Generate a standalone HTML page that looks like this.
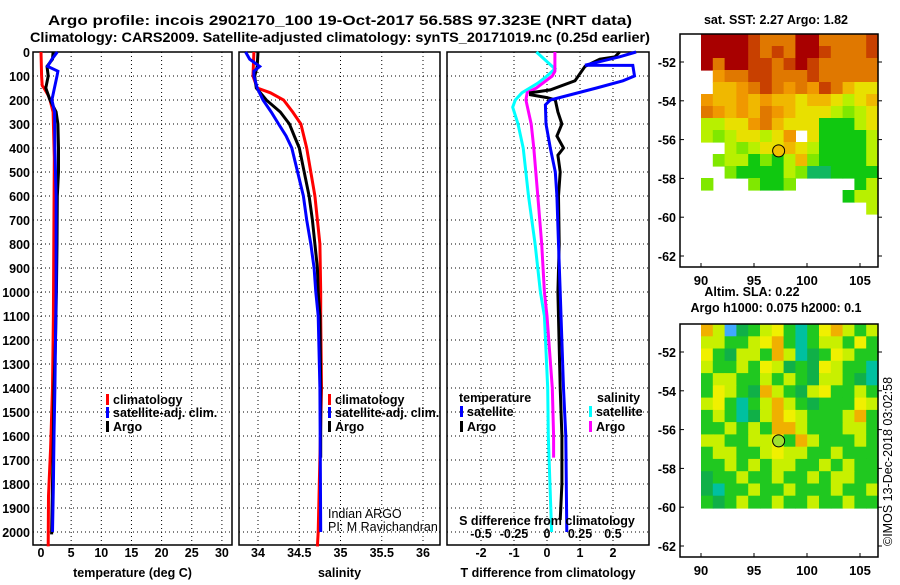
<!DOCTYPE html>
<html><head><meta charset="utf-8"><style>
html,body{margin:0;padding:0;background:#fff}
svg text{font-family:"Liberation Sans",sans-serif;font-weight:bold;font-size:12.5px;fill:#000}
svg text.nb{font-weight:normal}
</style></head><body>
<svg id="c" width="900" height="580" viewBox="0 0 900 580" xmlns="http://www.w3.org/2000/svg">
<text x="48" y="25" textLength="584" lengthAdjust="spacingAndGlyphs" style="font-size:14px">Argo profile: incois 2902170_100 19-Oct-2017 56.58S 97.323E (NRT data)</text>
<text x="30" y="42" textLength="620" lengthAdjust="spacingAndGlyphs" style="font-size:14px">Climatology: CARS2009. Satellite-adjusted climatology: synTS_20171019.nc (0.25d earlier)</text>
</svg>
<script>
// ---- depth axis ----
const depthTicks=[0,100,200,300,400,500,600,700,800,900,1000,1100,1200,1300,1400,1500,1600,1700,1800,1900,2000];
// ---- temperature panel ----
const tempTicks=[0,5,10,15,20,25,30];
const tClimD=[0,100,140,150,180,200,250,440,870,1100,1400,1650,1850,2060];
const tClimV=[0,0.1,0.2,0.5,1.2,1.5,2.0,2.2,2.1,2.05,1.9,1.6,1.25,1.2];
const tArgoD=[0,30,60,100,150,200,250,300,400,500,600,800,1000,1200,1400,1600,1800,2010];
const tArgoV=[2.0,1.9,1.0,1.2,0.8,1.5,2.5,2.8,2.9,2.9,2.7,2.65,2.55,2.4,2.15,2.05,1.9,1.75];
const tSatD=[0,30,60,80,100,200,250,400,600,1000,1400,1600,1800,2000];
const tSatV=[2.7,1.8,1.1,2.8,2.65,1.8,2.25,2.3,2.5,2.5,2.3,2.15,2.05,1.9];
// ---- salinity panel ----
const salTicks=[34,34.5,35,35.5,36];
const salTickLabels=["34","34.5","35","35.5","36"];
const sClimD=[0,100,150,170,200,250,300,400,500,600,700,800,1000,1100,1400,2000,2060];
const sClimV=[33.95,33.94,33.99,34.15,34.31,34.42,34.52,34.59,34.64,34.69,34.72,34.75,34.76,34.76,34.77,34.73,34.72];
const sArgoD=[0,60,100,150,200,250,300,350,400,500,600,700,800,900,1000,1100,1400,1690];
const sArgoV=[34.0,33.99,33.96,33.98,34.1,34.27,34.38,34.44,34.5,34.56,34.62,34.66,34.69,34.72,34.73,34.75,34.76,34.76];
const sSatD=[0,30,60,80,100,150,200,250,300,350,400,500,600,700,800,900,1000,1100,1400,2000];
const sSatV=[33.85,33.9,34.02,33.95,33.95,33.99,34.06,34.16,34.25,34.34,34.41,34.48,34.55,34.59,34.64,34.68,34.7,34.73,34.75,34.76];
// ---- difference panel ----
const dTTicks=[-2,-1,0,1,2];
const dSTicks=[-0.5,-0.25,0,0.25,0.5];
const dSTickLabels=["-0.5","-0.25","0","0.25","0.5"];
const dTArgoD=[0,20,30,60,80,120,158,170,178,190,200,250,300,350,400,430,500,600,800,1000,1400,1600,1800,1950];
const dTArgoV=[2.2,2.06,1.6,1.15,1.05,0.85,0.1,-0.5,-0.5,0,0.25,0.33,0.45,0.3,0.5,0.33,0.4,0.35,0.37,0.33,0.4,0.45,0.45,0.4];
const dTSatD=[0,20,55,56,100,120,150,200,220,300,400,500,600,800,1000,1400,1600,2000];
const dTSatV=[2.7,2.2,1.15,2.6,2.65,2.3,1.5,0.1,-0.05,-0.03,0.1,0.25,0.3,0.35,0.4,0.5,0.57,0.6];
const dSSatD=[0,50,70,100,130,170,200,230,300,400,600,800,1000,1100,1400,1600,2000];
const dSSatV=[-0.08,0.02,0.06,0,-0.07,-0.19,-0.24,-0.26,-0.22,-0.18,-0.14,-0.09,-0.05,-0.02,0.005,0.01,0.035];
const dSArgoD=[0,80,100,150,170,200,300,400,600,800,1000,1100,1400,1600,1690];
const dSArgoV=[0.06,0.06,0.04,-0.08,-0.15,-0.16,-0.12,-0.1,-0.07,-0.04,-0.02,0,0.04,0.05,0.05];
// ---- maps ----
const mapLatTicks=[-52,-54,-56,-58,-60,-62];
const mapLonTicks=[90,95,100,105];
const sstGrid=[
"DDDDROOODDOOOOR",
"DDDDRORODDROOOR",
"DODDRRORDROOOOO",
".oOORROOOROOOOO",
".YYoOROoOoROYyy",
"oYYoYoYYyYYyLyY",
"OoYoYOoYyyyLlLy",
"LLyyoOYyyyGGGLy",
"LlLyyLyo.yGGGGL",
"..LlLyyYyLGGGGL",
".lLLGlGLYlGGGGL",
"..lGGGGLlggGGGG",
"l...lGGl.....GL",
"............GLL",
"..............L"];
const slaGrid=[
"OyBgGyYGCGYOyGy",
"yyGGyYOGCGyyGYG",
"YGgyyGOyCgGYyGG",
"yGGyGYygGgYyGGC",
"GyyGGyGyGgyyGgC",
"GYyGgOyGgyYGGyG",
"yYGCGyOyGgGGGYy",
"GyGCgyOYyGGGyOG",
"GGyGyGOOyGGGyyG",
"yyGGyyYGOyGGGyG",
"GyyGGyYyyGGyGGG",
"GGyGyGyyGGyGyGG",
"gGGyGGyGGyGyyGG",
"gCGGyGGyGGGyGGy",
"GgGyGGyGGyGGyGG"];
const argoLon=97.323, argoLat=-56.58;

const NS="http://www.w3.org/2000/svg";
const svg=document.getElementById('c');
function mk(tag,attrs,parent){const e=document.createElementNS(NS,tag);for(const k in attrs)e.setAttribute(k,attrs[k]);(parent||svg).appendChild(e);return e;}
function txt(x,y,s,anchor,parent,extra){const e=mk('text',Object.assign({x:x,y:y,'text-anchor':anchor||'start'},extra||{}),parent);e.textContent=s;return e;}

const yTop=52, pxPerM=0.24, yBot=545;
const yD=d=>yTop+d*pxPerM;

function panel(name,x0,x1,xf,ticks,labels,xtitle){
  const g=mk('g',{});
  
  
  depthTicks.forEach(d=>{if(d>0){const l=mk('line',{x1:x0,x2:x1,y1:yD(d),y2:yD(d),stroke:'#000','stroke-width':1,'stroke-dasharray':'1,3'},g);
    
    }});
  ticks.forEach((t,i)=>{const x=xf(t);const l=mk('line',{x1:x,x2:x,y1:yTop,y2:yBot,stroke:'#000','stroke-width':1,'stroke-dasharray':'1,3'},g);
    
    
    const tl=txt(x,557,labels[i],'middle',g);
    
    });
  const f=mk('rect',{x:x0,y:yTop,width:x1-x0,height:yBot-yTop,fill:'none',stroke:'#000','stroke-width':1.5},g);
  
  
  if(xtitle){const t=txt((x0+x1)/2,577,xtitle,'middle',g);
    
    }
  return g;
}
function series(g,name,D,V,xf,color,w){
  const pts=D.map((d,i)=>xf(V[i]).toFixed(1)+','+yD(d).toFixed(1)).join(' ');
  const p=mk('polyline',{points:pts,fill:'none',stroke:color,'stroke-width':w||3,'stroke-linejoin':'miter'},g);
  
  
}
function legend(g,x,y,color,label,name){
  const r=mk('rect',{x:x,y:y-10,width:3,height:11,fill:color},g);
  
  
  const t=txt(x+7,y,label,'start',g);
  
  
}

depthTicks.forEach(d=>{const t=txt(30,yD(d)+5,String(d),'end');
  
  });

const xT=v=>41+v*6.03;
const g1=panel('temperature-panel',33,232,xT,tempTicks,tempTicks.map(String),'temperature (deg C)');
series(g1,'temp-climatology-line',tClimD,tClimV,xT,'#f00');
series(g1,'temp-argo-line',tArgoD,tArgoV,xT,'#000');
series(g1,'temp-satellite-line',tSatD,tSatV,xT,'#00f');
legend(g1,106,404,'#f00','climatology','legend-climatology');
legend(g1,106,417,'#00f','satellite-adj. clim.','legend-satellite');
legend(g1,106,431,'#000','Argo','legend-argo');

const xS=v=>258+(v-34)*82.5;
const g2=panel('salinity-panel',239,440,xS,salTicks,salTickLabels,'salinity');
series(g2,'sal-climatology-line',sClimD,sClimV,xS,'#f00');
series(g2,'sal-argo-line',sArgoD,sArgoV,xS,'#000');
series(g2,'sal-satellite-line',sSatD,sSatV,xS,'#00f');
legend(g2,328,404,'#f00','climatology','legend-climatology');
legend(g2,328,417,'#00f','satellite-adj. clim.','legend-satellite');
legend(g2,328,431,'#000','Argo','legend-argo');
const n1=txt(328,518,'Indian ARGO','start',g2,{'class':'nb'});


const n2=txt(328,531,'PI: M Ravichandran','start',g2,{'class':'nb'});



const xDT=v=>547+v*33, xDS=v=>547+v*132;
const g3=panel('difference-panel',447,649,xDT,dTTicks,dTTicks.map(String),'T difference from climatology');
series(g3,'dS-satellite-line',dSSatD,dSSatV,xDS,'#0ff');
series(g3,'dS-argo-line',dSArgoD,dSArgoV,xDS,'#f0f');
series(g3,'dT-argo-line',dTArgoD,dTArgoV,xDT,'#000');
series(g3,'dT-satellite-line',dTSatD,dTSatV,xDT,'#00f');
const lt=txt(459,402,'temperature','start',g3);


legend(g3,460,416,'#00f','satellite','legend-t-satellite');
legend(g3,460,431,'#000','Argo','legend-t-argo');
const ls=txt(597,402,'salinity','start',g3);


legend(g3,589,416,'#0ff','satellite','legend-s-satellite');
legend(g3,589,431,'#f0f','Argo','legend-s-argo');
const st=txt(547,525,'S difference from climatology','middle',g3);


dSTicks.forEach((v,i)=>{const t=txt(xDS(v),538,dSTickLabels[i],'middle',g3);
  
  });

const sstCol={D:'#a80000',R:'#c84000',O:'#e07800',o:'#f09800',Y:'#f0b800',y:'#e8e000',L:'#b8f000',l:'#80e800',G:'#10c810',g:'#10b860'};
const slaCol={G:'#20c820',g:'#10b048',Y:'#f0f000',y:'#c8f000',O:'#f0b000',C:'#00c0a0',B:'#40a8ff'};
function map(name,top,grid,cols,title1,title2,markFill,dataBot){
  const g=mk('g',{});
  
  
  const L=680,R=878,B=top+233;
  const lonX=v=>701+(v-90)*10.6, latY=v=>top+28+(-52-v)*19.4;
  const x0=lonX(90),cw=(R-x0)/grid[0].length,ch=(dataBot-top)/grid.length;
  grid.forEach((row,r)=>{for(let c=0;c<row.length;c++){const k=row[c];if(cols[k]){
    const cell=mk('rect',{x:(x0+c*cw).toFixed(1),y:(top+r*ch).toFixed(1),width:(cw+0.6).toFixed(1),height:(ch+0.6).toFixed(1),fill:cols[k]},g);
    
    }}});
  const f=mk('rect',{x:L,y:top,width:R-L,height:B-top,fill:'none',stroke:'#000','stroke-width':1.5},g);
  
  
  mapLatTicks.forEach(v=>{const y=latY(v);
    mk('line',{x1:L,x2:L+4,y1:y,y2:y,stroke:'#000'},g);
    mk('line',{x1:R,x2:R+4,y1:y,y2:y,stroke:'#000'},g);
    const t=txt(L-4,y+5,String(v),'end',g);
    
    });
  mapLonTicks.forEach(v=>{const x=lonX(v);
    mk('line',{x1:x,x2:x,y1:B,y2:B-4,stroke:'#000'},g);
    const t=txt(x,B+18,String(v),'middle',g,{'style':'font-size:13px'});
    
    });
  const m=mk('circle',{cx:lonX(argoLon),cy:latY(argoLat),r:6,fill:markFill,stroke:'#000','stroke-width':1},g);
  
  
  if(title2){const a=txt(752,top-28,title1,'middle',g);
    const b=txt(776,top-12,title2,'middle',g);}
  else{const a=txt(776,top-10,title1,'middle',g);}
}
map('sst-map',34,sstGrid,sstCol,'sat. SST: 2.27 Argo: 1.82',null,'#f0c000',34+15*12);
map('sla-map',324,slaGrid,slaCol,'Altim. SLA: 0.22','Argo h1000: 0.075 h2000: 0.1','#a0e030',508);
const cr=txt(0,0,'©IMOS 13-Dec-2018 03:02:58','start',null,{'class':'nb','transform':'translate(892,546) rotate(-90)'});


</script>
</body></html>
